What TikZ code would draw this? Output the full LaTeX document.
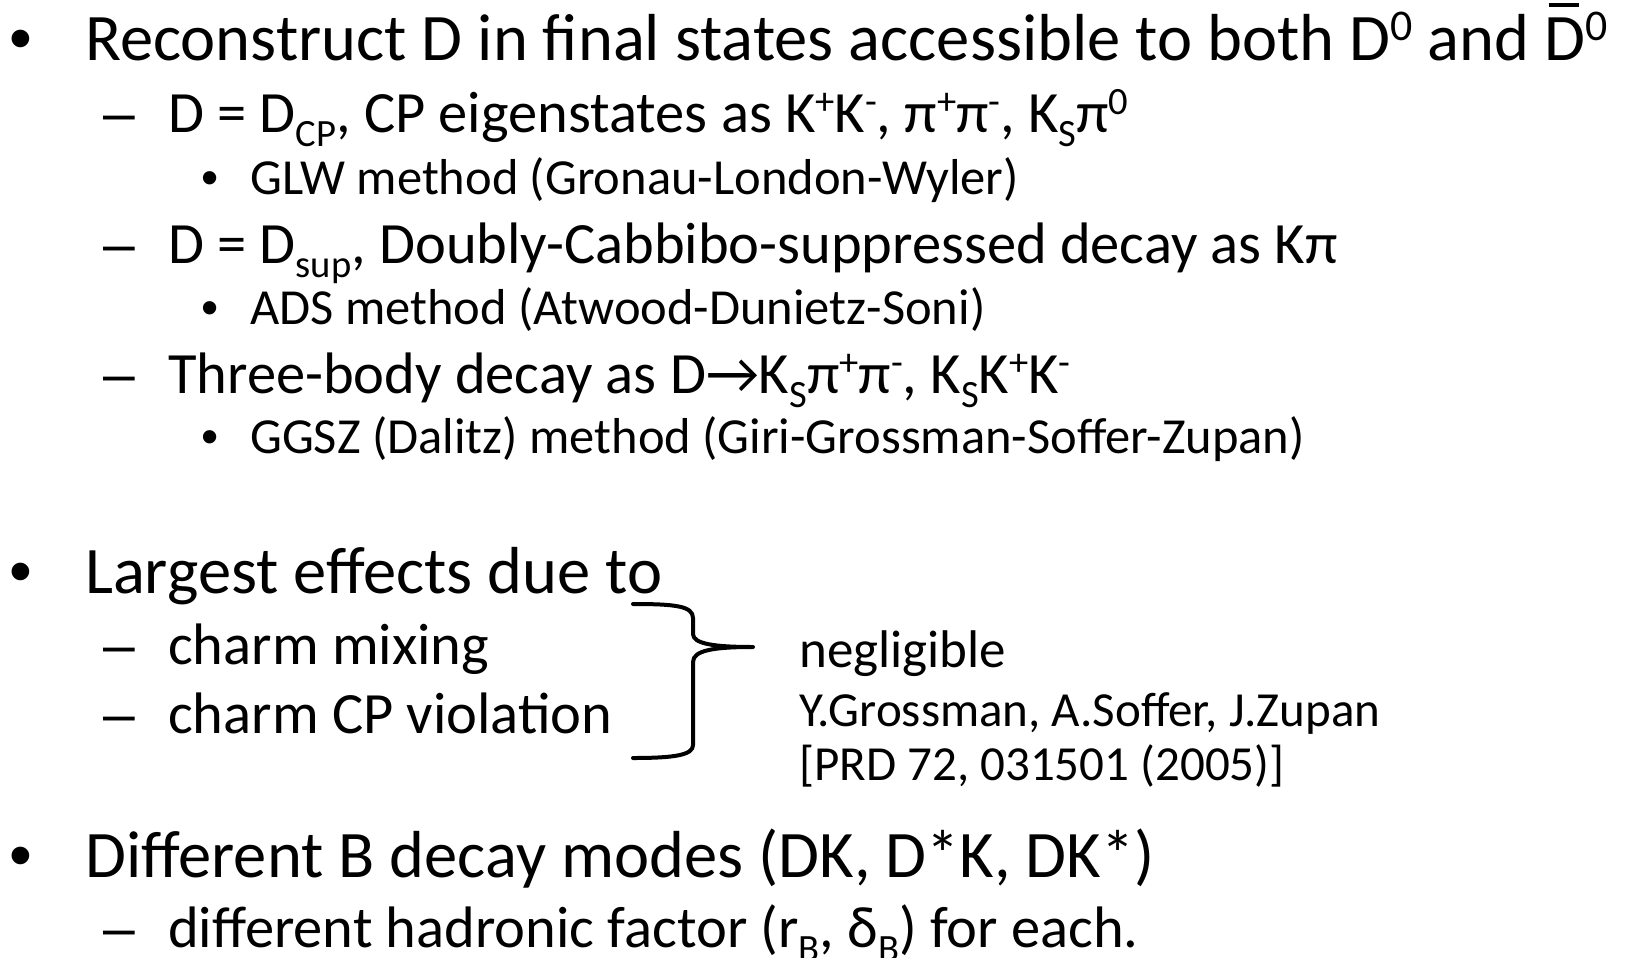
\documentclass[tikz,border=0pt]{standalone}
\usepackage{fontspec}
\setmainfont{Carlito}
\newfontfamily\arialf{Liberation Sans}
\usepackage{graphicx}
\newcommand{\sps}[1]{\raisebox{0.3em}{\scalebox{0.66}{#1}}}
\newcommand{\sbs}[1]{\raisebox{-0.25em}{\scalebox{0.66}{#1}}}
\newcommand{\Dbar}{\leavevmode\rlap{\hspace{0.06em}\raisebox{0.80em}{\rule{0.45em}{0.05em}}}D}
\begin{document}
\begin{tikzpicture}[x=1pt,y=-1pt,
  lone/.style={anchor=base west,inner sep=0pt,font=\fontsize{66.5}{78}\selectfont},
  ltwo/.style={anchor=base west,inner sep=0pt,font=\fontsize{58.5}{68}\selectfont},
  lthree/.style={anchor=base west,inner sep=0pt,font=\fontsize{50.5}{59}\selectfont},
  notebig/.style={anchor=base west,inner sep=0pt,font=\fontsize{53}{60}\selectfont},
  note/.style={anchor=base west,inner sep=0pt,font=\fontsize{49}{58}\selectfont},
  bulA/.style={anchor=base west,inner sep=0pt,font=\arialf\fontsize{65}{78}\selectfont},
  bulC/.style={anchor=base west,inner sep=0pt,font=\arialf\fontsize{49}{59}\selectfont},
  dashB/.style={anchor=base west,inner sep=0pt,font=\arialf\fontsize{57}{68}\selectfont},
  bracestroke/.style={line width=4pt,line cap=round,line join=round}]
\useasboundingbox (0,0) rectangle (1627,958);
\node[bulA] (b1) at (9,60) {•};
\node[lone] (t1) at (85,60) {Reconstruct D in final states accessible to both D\sps{0} and \Dbar\sps{0}};
\node[dashB] (d1) at (103,132) {–};
\node[ltwo] (t2) at (168,132) {D = D\sbs{CP}, CP eigenstates as K\sps{+}K\sps{-}, π\sps{+}π\sps{-}, K\sbs{S}π\sps{0}};
\node[bulC] (b2) at (201,194) {•};
\node[lthree] (t3) at (250,194) {GLW method (Gronau-London-Wyler)};
\node[dashB] (d2) at (103,263) {–};
\node[ltwo] (t4) at (168,263) {D = D\sbs{sup}, Doubly-Cabbibo-suppressed decay as Kπ};
\node[bulC] (b3) at (201,324) {•};
\node[lthree] (t5) at (250,324) {ADS method (Atwood-Dunietz-Soni)};
\node[dashB] (d3) at (103,393) {–};
\node[ltwo] (t6) at (168,393) {Three-body decay as D→K\sbs{S}π\sps{+}π\sps{-}, K\sbs{S}K\sps{+}K\sps{-}};
\node[bulC] (b4) at (201,453) {•};
\node[lthree] (t7) at (250,453) {GGSZ (Dalitz) method (Giri-Grossman-Soffer-Zupan)};
\node[bulA] (b5) at (9,593) {•};
\node[lone] (t8) at (85,593) {Largest effects due to};
\node[dashB] (d4) at (103,664) {–};
\node[ltwo] (t9) at (168,664) {charm mixing};
\node[dashB] (d5) at (103,733) {–};
\node[ltwo] (t10) at (168,733) {charm CP violation};
\node[notebig] (n1) at (799,667) {negligible};
\node[note] (n2) at (799,726) {Y.Grossman, A.Soffer, J.Zupan};
\node[note] (n3) at (799,780) {[PRD 72, 031501 (2005)]};
\node[bulA] (b6) at (9,877) {•};
\node[lone] (t11) at (85,877) {Different B decay modes (DK, D*K, DK*)};
\node[dashB] (d6) at (103,947) {–};
\node[ltwo] (t12) at (168,947) {different hadronic factor (r\sbs{B}, δ\sbs{B}) for each.};
\draw[bracestroke] (633,604) .. controls (675,604) and (693,606) .. (693,618) -- (693,634)
  .. controls (693,644) and (715,647) .. (753,647)
  .. controls (715,647) and (693,650) .. (693,662) -- (693,745)
  .. controls (693,755) and (675,758) .. (633,758);
\end{tikzpicture}
\end{document}
